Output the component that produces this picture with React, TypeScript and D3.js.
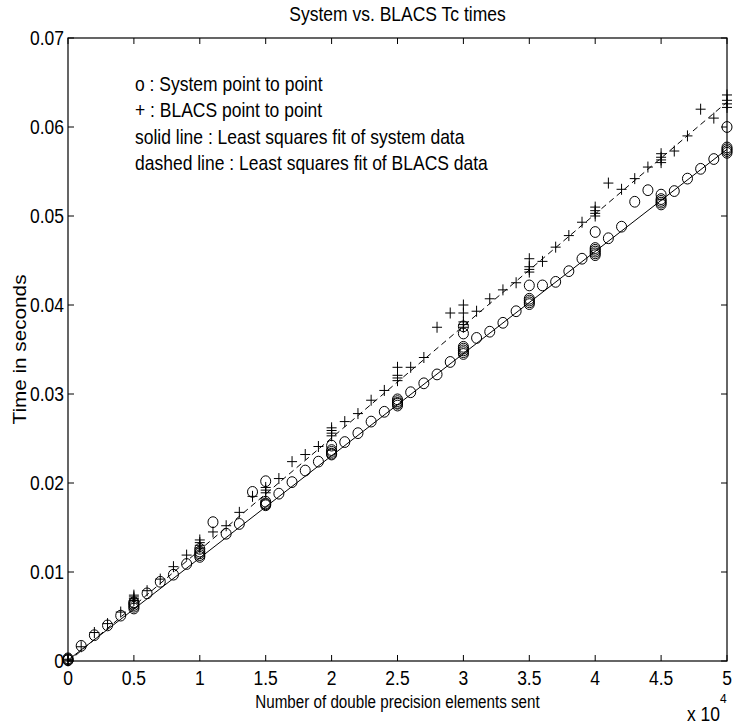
import React from "react";
import * as d3 from "d3";

// x positions: number of double precision elements sent
const X_STEPS = [
  0, 1000, 2000, 3000, 4000, 5000, 6000, 7000, 8000, 9000,
  10000, 11000, 12000, 13000, 14000, 15000, 16000, 17000, 18000, 19000,
  20000, 21000, 22000, 23000, 24000, 25000, 26000, 27000, 28000, 29000,
  30000, 31000, 32000, 33000, 34000, 35000, 36000, 37000, 38000, 39000,
  40000, 41000, 42000, 43000, 44000, 45000, 46000, 47000, 48000, 49000, 50000,
];

// System point to point times (seconds), one list per x step
const SYSTEM_TIMES = [
  [0.0001, 0.0002, 0.0003, 0.0001], [0.0017], [0.0029], [0.004], [0.0051],
  [0.0059, 0.0061, 0.0063, 0.0065, 0.0066], [0.0076], [0.0089], [0.0097], [0.0109],
  [0.0117, 0.0119, 0.0121, 0.0123, 0.0126], [0.0156], [0.0143], [0.0154], [0.019],
  [0.0175, 0.0176, 0.0177, 0.0179, 0.0202], [0.0188], [0.0201], [0.0214], [0.0224],
  [0.0232, 0.0233, 0.0235, 0.0237, 0.0242], [0.0246], [0.0256], [0.0269], [0.028],
  [0.0287, 0.0289, 0.029, 0.0292, 0.0294], [0.0302], [0.0312], [0.0322], [0.0336],
  [0.0345, 0.0347, 0.0349, 0.0351, 0.0353, 0.0368, 0.0376], [0.0363], [0.037], [0.038], [0.0393],
  [0.0401, 0.0403, 0.0405, 0.0407, 0.0422], [0.0422], [0.0426], [0.0438], [0.0452],
  [0.0456, 0.0458, 0.046, 0.0462, 0.0464, 0.0482], [0.0475], [0.0488], [0.0516], [0.0529],
  [0.0513, 0.0515, 0.0517, 0.0519, 0.0524], [0.0528], [0.0542], [0.0553], [0.0564],
  [0.0571, 0.0573, 0.0575, 0.0577, 0.06],
];

// BLACS point to point times (seconds), one list per x step
const BLACS_TIMES = [
  [0.0, 0.0001, 0.0002], [0.0016], [0.0032], [0.0042], [0.0055],
  [0.0068, 0.007, 0.0072, 0.0074], [0.0079], [0.0092], [0.0106], [0.0119],
  [0.0127, 0.013, 0.0133, 0.0136], [0.0145], [0.0152], [0.0167], [0.0185],
  [0.0189, 0.0192, 0.0195], [0.0205], [0.0224], [0.0232], [0.0241],
  [0.0253, 0.0256, 0.0259, 0.0262], [0.0269], [0.0278], [0.0293], [0.0304],
  [0.0315, 0.0318, 0.0321, 0.033], [0.033], [0.0341], [0.0375], [0.0391],
  [0.0375, 0.0378, 0.0381, 0.0391, 0.04], [0.0393], [0.0407], [0.0417], [0.0425],
  [0.0437, 0.044, 0.0443, 0.0452], [0.0449], [0.0465], [0.0478], [0.0493],
  [0.05, 0.0503, 0.0506, 0.051], [0.0537], [0.053], [0.0542], [0.0555],
  [0.056, 0.0563, 0.0566, 0.057], [0.0573], [0.059], [0.062], [0.061],
  [0.0622, 0.0626, 0.063, 0.0636],
];

// least squares fits: time = intercept + slope * elements
const SYSTEM_FIT = { intercept: 0.0001, slope: 0.01148 / 10000 };
const BLACS_FIT = { intercept: -0.0001, slope: 0.01258 / 10000 };

const X_TICKS = [0, 5000, 10000, 15000, 20000, 25000, 30000, 35000, 40000, 45000, 50000];
const Y_TICKS = [0, 0.01, 0.02, 0.03, 0.04, 0.05, 0.06, 0.07];

const TITLE = "System vs. BLACS Tc times";
const X_LABEL = "Number of double precision elements sent";
const Y_LABEL = "Time in seconds";
const LEGEND_LINES = [
  "o : System point to point",
  "+ : BLACS point to point",
  "solid line : Least squares fit of system data",
  "dashed line : Least squares fit of BLACS data",
];

const W = 733;
const H = 727;
const M = { left: 68, right: 6, top: 38, bottom: 66 };
const FONT = "'Liberation Sans', Arial, Helvetica, sans-serif";
const FS = 17.5;
const SY = 1.12;

function T({ x, y, anchor = "start", size = FS, rotate = 0, sy = SY, children }: any) {
  const tr = `translate(${x},${y})${rotate ? ` rotate(${rotate})` : ""} scale(${rotate ? sy : 1},${rotate ? 1 : sy})`;
  return (
    <text transform={tr} textAnchor={anchor} fontFamily={FONT} fontSize={size} fill="#000">
      {children}
    </text>
  );
}

export default function App() {
  const x = d3.scaleLinear().domain([0, 50000]).range([M.left, W - M.right]);
  const y = d3.scaleLinear().domain([0, 0.07]).range([H - M.bottom, M.top]);
  const x0 = x(0), x1 = x(50000), y0 = y(0), y1 = y(0.07);
  const tick = 6;

  const sysPts: [number, number][] = [];
  SYSTEM_TIMES.forEach((ts, i) => ts.forEach((t) => sysPts.push([X_STEPS[i], t])));
  const blPts: [number, number][] = [];
  BLACS_TIMES.forEach((ts, i) => ts.forEach((t) => blPts.push([X_STEPS[i], t])));

  const fitPath = (f: { intercept: number; slope: number }) =>
    d3.line<number>().x((d) => x(d)).y((d) => y(f.intercept + f.slope * d))([0, 50000]) || "";

  const fmtX = (v: number) => d3.format("~g")(v / 10000);
  const fmtY = (v: number) => (v === 0 ? "0" : d3.format(".2f")(v));
  const r = 5;

  return (
    <svg width={W} height={H} style={{ position: "absolute", left: 0, top: 0, background: "#fff" }}>
      <rect width={W} height={H} fill="#fff" />
      <T x={(x0 + x1) / 2} y={21} anchor="middle">{TITLE}</T>

      <path d={fitPath(SYSTEM_FIT)} stroke="#000" strokeWidth={1} fill="none" />
      <path d={fitPath(BLACS_FIT)} stroke="#000" strokeWidth={1} fill="none" strokeDasharray="6,4" />

      {sysPts.map(([a, b], i) => (
        <ellipse key={"s" + i} cx={x(a)} cy={y(b)} rx={r} ry={r * 1.08} fill="none" stroke="#000" strokeWidth={1} />
      ))}
      {blPts.map(([a, b], i) => (
        <path
          key={"b" + i}
          d={`M${x(a) - r},${y(b)}H${x(a) + r}M${x(a)},${y(b) - r * 1.1}V${y(b) + r * 1.1}`}
          stroke="#000"
          strokeWidth={1}
          fill="none"
        />
      ))}

      <rect x={x0} y={y1} width={x1 - x0} height={y0 - y1} fill="none" stroke="#000" strokeWidth={1.2} />

      {X_TICKS.map((v) => (
        <g key={"xt" + v}>
          <line x1={x(v)} x2={x(v)} y1={y0} y2={y0 - tick} stroke="#000" />
          <line x1={x(v)} x2={x(v)} y1={y1} y2={y1 + tick} stroke="#000" />
          <T x={x(v)} y={y0 + 24} anchor="middle">{fmtX(v)}</T>
        </g>
      ))}
      {Y_TICKS.map((v) => (
        <g key={"yt" + v}>
          <line x1={x0} x2={x0 + tick} y1={y(v)} y2={y(v)} stroke="#000" />
          <line x1={x1} x2={x1 - tick} y1={y(v)} y2={y(v)} stroke="#000" />
          <T x={x0 - 4} y={y(v) + 7} anchor="end">{fmtY(v)}</T>
        </g>
      ))}

      <T x={(x0 + x1) / 2} y={708} anchor="middle" size={15.2} sy={1.25}>{X_LABEL}</T>
      <T x={26} y={(y0 + y1) / 2} anchor="middle" rotate={-90} size={18.5}>{Y_LABEL}</T>
      <T x={687} y={721}>x 10</T>
      <T x={720} y={703} size={12}>4</T>

      {LEGEND_LINES.map((s, i) => (
        <T key={"lg" + i} x={135} y={90.5 + i * 26.5}>{s}</T>
      ))}
    </svg>
  );
}
